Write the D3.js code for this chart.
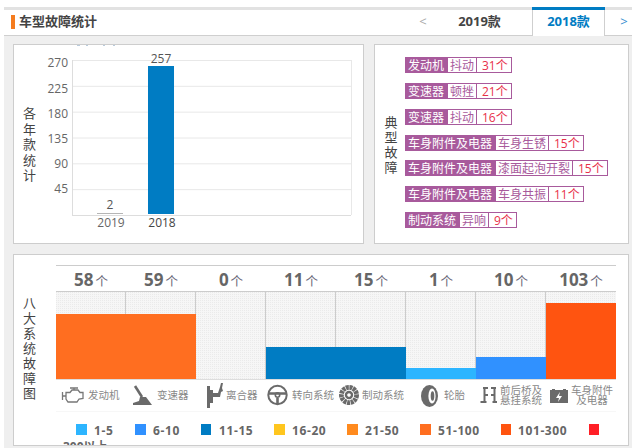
<!DOCTYPE html>
<html>
<head>
<meta charset="utf-8">
<script src="https://cdn.jsdelivr.net/npm/d3@7"></script>
<style>
  html, body { margin: 0; padding: 0; background: #fff; overflow: hidden; }
  text { font-family: "Open Sans", "Noto Sans CJK SC", sans-serif; }
</style>
</head>
<body>
<div id="chart"></div>
<script>
// model years
var yearLabels = ["2019", "2018"];
var yearValues = [2, 257];
var yearTicks = [45, 90, 135, 180, 225, 270];

// typical faults
var faultSystems = ["发动机", "变速器", "变速器", "车身附件及电器", "车身附件及电器", "车身附件及电器", "制动系统"];
var faultNames = ["抖动", "顿挫", "抖动", "车身生锈", "漆面起泡开裂", "车身共振", "异响"];
var faultCounts = [31, 21, 16, 15, 15, 11, 9];

// eight systems
var systemNames = ["发动机", "变速器", "离合器", "转向系统", "制动系统", "轮胎", "前后桥及\n悬挂系统", "车身附件\n及电器"];
var systemValues = [58, 59, 0, 11, 15, 1, 10, 103];

// legend buckets
var bucketLabels = ["1-5", "6-10", "11-15", "16-20", "21-50", "51-100", "101-300", "300以上"];
var bucketStarts = [1, 6, 11, 16, 21, 51, 101, 301];
var bucketColors = ["#2db5ff", "#3091ff", "#007cc3", "#ffc61e", "#ff8a1e", "#ff6e20", "#ff5410", "#ff1f26"];

var svg = d3.select("#chart").append("svg").attr("width", 632).attr("height", 448);
var defs = svg.append("defs");

var dots = defs.append("pattern").attr("id", "dots").attr("width", 2).attr("height", 2).attr("patternUnits", "userSpaceOnUse");
dots.append("rect").attr("width", 2).attr("height", 2).attr("fill", "#f6f6f6");
dots.append("rect").attr("width", 1).attr("height", 1).attr("fill", "#eaeaea");

// page frame
svg.append("rect").attr("x", 4).attr("y", 7).attr("width", 628).attr("height", 441).attr("fill", "#efefef");
svg.append("rect").attr("x", 4).attr("y", 7).attr("width", 628).attr("height", 3).attr("fill", "#e2e2e2");
svg.append("rect").attr("x", 4).attr("y", 10).attr("width", 628).attr("height", 25).attr("fill", "#fff");
svg.append("rect").attr("x", 4).attr("y", 35).attr("width", 628).attr("height", 1).attr("fill", "#cfcfcf");

svg.append("rect").attr("x", 11).attr("y", 15).attr("width", 4).attr("height", 14).attr("fill", "#f57c1f");
svg.append("text").attr("x", 19).attr("y", 26).attr("font-size", 13).attr("font-weight", 600).attr("fill", "#444").text("车型故障统计");

// tabs
svg.append("rect").attr("x", 532).attr("y", 7).attr("width", 72).attr("height", 29).attr("fill", "#fff");
svg.append("rect").attr("x", 604).attr("y", 10).attr("width", 1).attr("height", 26).attr("fill", "#cfcfcf");
svg.append("rect").attr("x", 532).attr("y", 10).attr("width", 1).attr("height", 26).attr("fill", "#cfcfcf");
svg.append("rect").attr("x", 532).attr("y", 7).attr("width", 73).attr("height", 3).attr("fill", "#007cc3");
svg.append("text").attr("x", 423).attr("y", 26).attr("text-anchor", "middle").attr("font-size", 13).attr("fill", "#aaa").text("<");
svg.append("text").attr("x", 479.5).attr("y", 26).attr("text-anchor", "middle").attr("font-size", 13).attr("font-weight", 700).attr("fill", "#444").text("2019款");
svg.append("text").attr("x", 568.5).attr("y", 26).attr("text-anchor", "middle").attr("font-size", 13).attr("font-weight", 700).attr("fill", "#007cc3").text("2018款");
svg.append("text").attr("x", 624).attr("y", 26).attr("text-anchor", "middle").attr("font-size", 13).attr("fill", "#3a8fd0").text(">");

function panel(x, y, w, h) {
  svg.append("rect").attr("x", x + 0.5).attr("y", y + 0.5).attr("width", w).attr("height", h)
    .attr("fill", "#fff").attr("stroke", "#cdcdcd");
}
panel(13, 44, 350, 199);
panel(374, 44, 254, 199);
panel(13, 254, 615, 191);

// bottoms of a title cut off by the first panel
svg.append("path").attr("d", "M77 45.5h3M86 45.5h2M103 45.5h2M113 45.5h2").attr("stroke", "#b9cbdc");

function verticalTitle(chars, x, y, step) {
  svg.append("g").selectAll("text").data(chars.split("")).join("text")
    .attr("x", x).attr("y", function (d, i) { return y + i * step; })
    .attr("text-anchor", "middle").attr("dominant-baseline", "central")
    .attr("font-size", 13).attr("fill", "#444").text(function (d) { return d; });
}

// year bars
var yearY = d3.scaleLinear().domain([0, 270]).range([215, 60]);
var yearLabelY = d3.scaleLinear().domain([45, 270]).range([189, 63]);
var yearX = d3.scaleBand().domain(yearLabels).range([72, 199]).padding(0.49);

verticalTitle("各年款统计", 29.5, 113, 15.5);

svg.append("g").selectAll("line").data(yearTicks).join("line")
  .attr("x1", 73).attr("x2", 351)
  .attr("y1", function (d) { return yearY(d) + 0.5; }).attr("y2", function (d) { return yearY(d) + 0.5; })
  .attr("stroke", "#e8e8e8");
svg.append("line").attr("x1", 351.5).attr("x2", 351.5).attr("y1", 60).attr("y2", 215).attr("stroke", "#e8e8e8");
svg.append("line").attr("x1", 72.5).attr("x2", 72.5).attr("y1", 60).attr("y2", 216).attr("stroke", "#ddd");

var yAxis = svg.append("g").attr("transform", "translate(73,0)")
  .call(d3.axisLeft(yearLabelY).tickValues(yearTicks).tickSize(0).tickPadding(5));
yAxis.select(".domain").remove();
yAxis.selectAll("text").attr("font-size", 12).attr("fill", "#666").style("font-family", "\"Open Sans\", sans-serif");

var xAxis = svg.append("g").attr("transform", "translate(0,215)")
  .call(d3.axisBottom(yearX).tickSize(0).tickPadding(3));
xAxis.select(".domain").attr("d", "M73,0.5H351").attr("stroke", "#ddd");
xAxis.selectAll("text").attr("font-size", 12).attr("dx", 1).style("font-family", "\"Open Sans\", sans-serif")
  .attr("fill", function (d, i) { return i === 0 ? "#666" : "#444"; });

svg.append("g").selectAll("rect").data(yearValues).join("rect")
  .attr("x", function (d, i) { return yearX(yearLabels[i]); })
  .attr("y", function (d) { return Math.round(yearY(d) - 1); })
  .attr("width", yearX.bandwidth())
  .attr("height", function (d) { return 214 - Math.round(yearY(d) - 1); })
  .attr("fill", function (d, i) { return i === 0 ? "#b5b5b5" : "#007cc3"; });

svg.append("g").selectAll("text").data(yearValues).join("text")
  .attr("x", function (d, i) { return yearX(yearLabels[i]) + yearX.bandwidth() / 2; })
  .attr("y", function (d) { return yearY(d) - 4.5; })
  .attr("text-anchor", "middle").attr("font-size", 12).attr("fill", "#555")
  .text(function (d) { return d; });

// typical fault tags
verticalTitle("典型故障", 391, 122, 15);
var tagY = d3.scalePoint().domain(d3.range(faultNames.length)).range([57, 212]);
var purple = "#a85a9c";

faultNames.forEach(function (name, i) {
  var y = Math.round(tagY(i));
  var g = svg.append("g").attr("transform", "translate(405," + y + ")");
  var systemWidth = faultSystems[i].length * 12 + 7;
  var nameWidth = name.length * 12 + 4;
  var countText = String(faultCounts[i]);
  var countWidth = countText.length * 7 + 12 + 9;
  g.append("rect").attr("x", 0.5).attr("y", 0.5).attr("width", systemWidth + nameWidth + countWidth).attr("height", 15)
    .attr("fill", "#fff").attr("stroke", purple);
  g.append("rect").attr("width", systemWidth).attr("height", 16).attr("fill", purple);
  g.append("line").attr("x1", systemWidth + nameWidth + 0.5).attr("x2", systemWidth + nameWidth + 0.5)
    .attr("y1", 0).attr("y2", 16).attr("stroke", purple);
  g.append("text").attr("x", 3).attr("y", 12.5).attr("font-size", 12).attr("fill", "#fff").text(faultSystems[i]);
  g.append("text").attr("x", systemWidth + 2).attr("y", 12.5).attr("font-size", 12).attr("fill", purple).text(name);
  g.append("text").attr("x", systemWidth + nameWidth + 6).attr("y", 12.5).attr("font-size", 12).attr("fill", "#e8304a").text(countText + "个");
});

// eight systems
verticalTitle("八大系统故障图", 29.5, 303, 15);

var sysX = d3.scaleBand().domain(systemNames).range([56, 616]);
var bucketOf = d3.scaleThreshold().domain(bucketStarts).range(d3.range(0, 9));
var sysY = d3.scaleLinear().domain([0, 8]).range([379.1, 292.3]);
var bucketColor = d3.scaleOrdinal().domain(d3.range(1, 9)).range(bucketColors);

svg.append("line").attr("x1", 56).attr("x2", 616).attr("y1", 265.5).attr("y2", 265.5).attr("stroke", "#ccc");
svg.append("rect").attr("x", 56).attr("y", 291).attr("width", 560).attr("height", 88).attr("fill", "url(#dots)");
svg.append("line").attr("x1", 56).attr("x2", 616).attr("y1", 291.5).attr("y2", 291.5).attr("stroke", "#ccc");
svg.append("line").attr("x1", 56).attr("x2", 616).attr("y1", 379.5).attr("y2", 379.5).attr("stroke", "#ddd");

svg.append("g").selectAll("line").data(systemNames.slice(1)).join("line")
  .attr("x1", function (d) { return sysX(d) - 0.5; }).attr("x2", function (d) { return sysX(d) - 0.5; })
  .attr("y1", 291).attr("y2", 379).attr("stroke", "#ccc");

svg.append("g").selectAll("rect").data(systemValues).join("rect")
  .attr("x", function (d, i) { return sysX(systemNames[i]); })
  .attr("y", function (d) { return Math.round(sysY(bucketOf(d))); })
  .attr("width", sysX.bandwidth())
  .attr("height", function (d) { return bucketOf(d) ? 379 - Math.round(sysY(bucketOf(d))) : 0; })
  .attr("fill", function (d) { return bucketColor(bucketOf(d)); });

var counts = svg.append("g").selectAll("text").data(systemValues).join("text")
  .attr("x", function (d, i) { return sysX(systemNames[i]) + sysX.bandwidth() / 2; })
  .attr("y", 286).attr("text-anchor", "middle").attr("fill", "#666");
counts.append("tspan").attr("font-size", 17).attr("font-weight", 700).text(function (d) { return d; });
counts.append("tspan").attr("font-size", 12.5).attr("fill", "#667").attr("dx", 2).text("个");

// system icons, roughly drawn
var iconColor = "#6a6a6a";
// engine
svg.append("path").attr("fill", "none").attr("stroke", "#777").attr("stroke-width", 1.3)
  .attr("d", "M62.5 392v8M62.5 396h3M66 392.5h4l2-2.5h6l2 2.5h3v6l-4 0.5-2 3h-9l-2-3h-0zM70 388h8M74 388v2");
// gear lever
svg.append("path").attr("fill", "none").attr("stroke", iconColor).attr("stroke-width", 2.6)
  .attr("d", "M135 386l7 11");
svg.append("path").attr("fill", iconColor).attr("d", "M140 397h6l6 8h-19v-2l6-2z");
// clutch
svg.append("path").attr("fill", iconColor)
  .attr("d", "M207 386h3v22h-3zM210 390h3v13h-3zM213 393h5l1-3 1-3 1-4h2l-1 5 1 3-2 1-1 5h-7z");
// steering wheel
var wheel = svg.append("g").attr("transform", "translate(277.5,395)").attr("fill", "none").attr("stroke", iconColor);
wheel.append("circle").attr("r", 9.2).attr("stroke-width", 2);
wheel.append("circle").attr("r", 2.2).attr("stroke-width", 1.6);
wheel.append("path").attr("d", "M-8.5 -1.5h17M0 3v6").attr("stroke-width", 2.6);
// brake disc
var disc = svg.append("g").attr("transform", "translate(349,395)").attr("fill", "none").attr("stroke", iconColor);
disc.append("circle").attr("r", 7.6).attr("stroke-width", 4.8).attr("stroke-dasharray", "3 0.6");
disc.append("circle").attr("r", 3).attr("stroke-width", 2.4);
// tyre
var tyre = svg.append("g").attr("transform", "translate(429.5,396)");
tyre.append("ellipse").attr("rx", 8.5).attr("ry", 11).attr("fill", iconColor);
tyre.append("ellipse").attr("cx", 2.5).attr("rx", 3.6).attr("ry", 7.5).attr("fill", "#fff");
tyre.append("ellipse").attr("cx", 3).attr("rx", 1.8).attr("ry", 4.8).attr("fill", iconColor);
// axle
svg.append("path").attr("fill", "none").attr("stroke", iconColor).attr("stroke-width", 2)
  .attr("d", "M483 388h5M491 388h5M484.5 388v13M494.5 388v13M480.5 402h6M492.5 402h4.5M485 395h3M491 395h3");
// battery
svg.append("path").attr("fill", iconColor)
  .attr("d", "M552 389h3v1h8v-1h3v1h2v13h-18v-13h2zM560 392l-4 6h3l-1 4 4-6h-3z")
  .attr("fill-rule", "evenodd");

// icon captions
var captionX = [88, 157, 226, 292, 362, 444, 521, 592];
svg.append("g").selectAll("text").data(systemNames).join("text")
  .attr("font-size", 10.5).attr("fill", "#888")
  .attr("y", function (d) { return d.indexOf("\n") >= 0 ? 394 : 399; })
  .each(function (d, i) {
    var sel = d3.select(this);
    var parts = d.split("\n");
    sel.attr("text-anchor", parts.length > 1 ? "middle" : "start");
    parts.forEach(function (p, j) {
      sel.append("tspan").attr("x", captionX[i]).attr("dy", j ? 10 : 0).text(p);
    });
  });

svg.append("line").attr("x1", 56).attr("x2", 616).attr("y1", 411.5).attr("y2", 411.5).attr("stroke", "#f7f7f7");

// legend, the last label wraps and gets cut by the panel edge
var legendX = [76, 135, 201, 274, 347, 420, 501, 589];
var legend = svg.append("g");
legend.selectAll("rect").data(bucketLabels).join("rect")
  .attr("x", function (d, i) { return legendX[i]; }).attr("y", 424)
  .attr("width", function (d, i) { return i === 2 || i > 5 ? 10 : 11; }).attr("height", 11)
  .attr("fill", function (d, i) { return bucketColors[i]; });
legend.selectAll("text").data(bucketLabels.slice(0, 7)).join("text")
  .attr("x", function (d, i) { return legendX[i] + (i === 6 ? 17 : 18); }).attr("y", 434.5)
  .attr("font-size", 12).attr("font-weight", 700).attr("letter-spacing", 0.6).attr("fill", "#666")
  .text(function (d) { return d; });

defs.append("clipPath").attr("id", "panelClip").append("rect").attr("x", 14).attr("y", 255).attr("width", 614).attr("height", 190);
svg.append("text").attr("clip-path", "url(#panelClip)").attr("x", 63).attr("y", 450.5)
  .attr("font-size", 12).attr("font-weight", 700).attr("fill", "#666").text(bucketLabels[7]);
</script>
</body>
</html>
